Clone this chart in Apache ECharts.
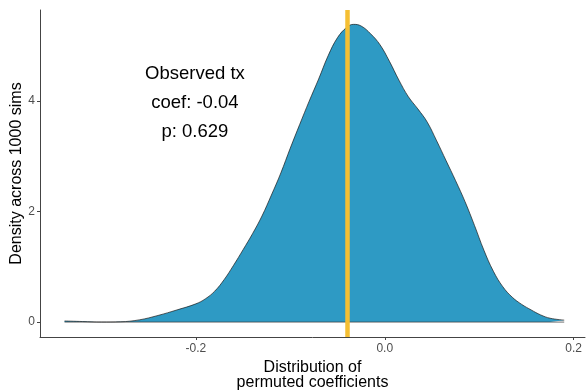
<!DOCTYPE html>
<html>
<head>
<meta charset="utf-8">
<script src="https://cdn.jsdelivr.net/npm/echarts@6/dist/echarts.min.js"></script>
<style>
  html, body { margin: 0; padding: 0; background: #fff; }
  #container { width: 587px; height: 391px; }
</style>
</head>
<body>
<div id="container"></div>
<script>
"use strict";

// 置换系数的密度曲线（从图上读的点）
const coefs = [-0.339, -0.32, -0.30, -0.28, -0.26, -0.24, -0.22, -0.20, -0.19, -0.18,
    -0.17, -0.16, -0.15, -0.14, -0.13, -0.12, -0.11, -0.10, -0.09, -0.08,
    -0.07, -0.06, -0.05, -0.04, -0.033, -0.025, -0.015, -0.005, 0.005, 0.015,
    0.025, 0.035, 0.045, 0.055, 0.065, 0.075, 0.085, 0.095, 0.105, 0.115,
    0.125, 0.135, 0.145, 0.155, 0.165, 0.175, 0.19];
const density = [0.02, 0.01, 0.0, 0.005, 0.04, 0.12, 0.22, 0.33, 0.42, 0.56,
    0.77, 1.03, 1.31, 1.60, 1.92, 2.30, 2.70, 3.15, 3.58, 4.00,
    4.40, 4.82, 5.15, 5.34, 5.39, 5.36, 5.22, 5.02, 4.72, 4.38,
    4.08, 3.86, 3.62, 3.28, 2.92, 2.56, 2.18, 1.75, 1.30, 0.92,
    0.64, 0.45, 0.32, 0.22, 0.13, 0.07, 0.035];

const xTicks = [-0.2, 0.0, 0.2];
const yTicks = [0, 2, 4];
const observedCoef = -0.039;
const noteLines = ['Observed tx', 'coef: -0.04', 'p: 0.629'];

let myChart = echarts.init(document.getElementById('container'));

let curve = coefs.map(function (c, i) { return [c, density[i]]; });
let baseline = [[coefs[0], 0], [coefs[coefs.length - 1], 0]];

let option = {
    animation: false,
    textStyle: { fontFamily: 'Liberation Sans' },
    grid: { left: 40, right: 2, top: 10, bottom: 54, outerBoundsMode: 'none', containLabel: false },
    xAxis: {
        type: 'value',
        min: -0.365,
        max: 0.212,
        name: 'Distribution of\npermuted coefficients',
        nameLocation: 'middle',
        nameGap: 23,
        nameMoveOverlap: false,
        nameTextStyle: { fontSize: 16, color: '#000', lineHeight: 15, verticalAlign: 'top' },
        splitLine: { show: false },
        axisLine: { onZero: false, lineStyle: { color: '#444', width: 1 } },
        axisTick: { customValues: xTicks, length: 3, lineStyle: { color: '#444' } },
        axisLabel: {
            customValues: xTicks, margin: 6, fontSize: 12, color: '#4d4d4d',
            formatter: function (v) { return v.toFixed(1); }
        }
    },
    yAxis: {
        type: 'value',
        min: -0.27,
        max: 5.65,
        name: 'Density across 1000 sims',
        nameLocation: 'middle',
        nameGap: 15,
        nameMoveOverlap: false,
        nameTextStyle: { fontSize: 16, color: '#000' },
        splitLine: { show: false },
        axisLine: { show: true, onZero: false, lineStyle: { color: '#444', width: 1 } },
        axisTick: { show: true, customValues: yTicks, length: 3, lineStyle: { color: '#444' } },
        axisLabel: { customValues: yTicks, margin: 5, fontSize: 12, color: '#4d4d4d' }
    },
    series: [
        {
            type: 'line',
            data: curve,
            smooth: 0.4,
            showSymbol: false,
            lineStyle: { color: '#1a1a1a', width: 0.7 },
            areaStyle: { color: '#2E9AC4', opacity: 1, origin: 0 },
            markLine: {
                silent: true,
                symbol: 'none',
                label: { show: false },
                lineStyle: { color: '#F5BF33', width: 4.5, type: 'solid' },
                data: [{ xAxis: observedCoef }]
            },
            z: 2
        },
        {
            type: 'line',
            data: baseline,
            showSymbol: false,
            lineStyle: { color: '#333', width: 0.7 },
            z: 3
        },
        {
            type: 'scatter',
            data: [[-0.201, 3.96]],
            symbolSize: 0,
            itemStyle: { opacity: 1 },
            label: {
                show: true,
                position: 'inside',
                formatter: noteLines.join('\n'),
                fontSize: 18.5,
                lineHeight: 29,
                color: '#000',
                opacity: 1
            },
            z: 5
        }
    ]
};

myChart.setOption(option);

window.addEventListener('resize', function () {
    myChart.resize();
});
</script>
</body>
</html>
